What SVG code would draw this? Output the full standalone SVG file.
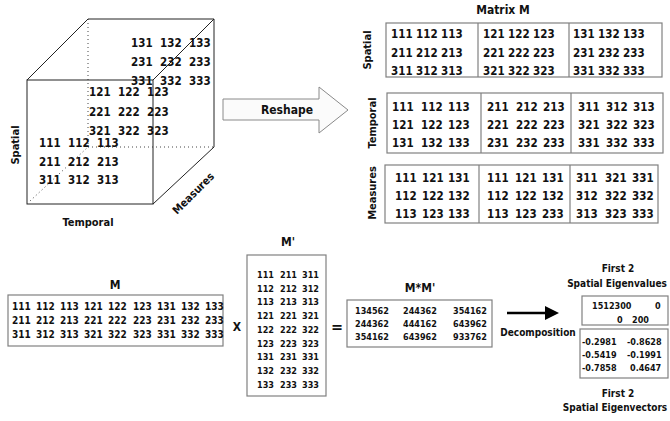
<svg xmlns="http://www.w3.org/2000/svg" width="670" height="421" viewBox="0 0 670 421">
<style>
text{font-family:"DejaVu Sans Condensed","DejaVu Sans",sans-serif;font-stretch:condensed;font-weight:bold;fill:#111}
.n11{font-size:11.5px}
.n10{font-size:10px}
.n9{font-size:9px}
.lbl{font-size:11px}
.t12{font-size:12px}
.mid{text-anchor:middle}
.edge{stroke:#222;stroke-width:1;fill:none}
.dot{stroke:#444;stroke-width:1;fill:none;stroke-dasharray:1 3}
.box{fill:#fff;stroke:#808080;stroke-width:1.2}
.div{stroke:#808080;stroke-width:1.2}
</style>
<rect width="670" height="421" fill="#fff"/>

<g id="cube">
  <line class="dot" x1="88" y1="19" x2="88" y2="147"/>
  <line class="dot" x1="88" y1="147" x2="214" y2="147"/>
  <line class="dot" x1="30" y1="201" x2="88" y2="147"/>
  <rect class="edge" x="27" y="80" width="126" height="124"/>
  <polyline class="edge" points="27,80 88,19 214,19 214,147 153,204"/>
  <line class="edge" x1="153" y1="80" x2="214" y2="19"/>
  <g class="n11">
    <text y="47"><tspan x="131">131</tspan><tspan x="160">132</tspan><tspan x="189">133</tspan></text>
    <text y="66"><tspan x="131">231</tspan><tspan x="160">232</tspan><tspan x="189">233</tspan></text>
    <text y="85"><tspan x="131">331</tspan><tspan x="160">332</tspan><tspan x="189">333</tspan></text>
    <text y="96"><tspan x="89">121</tspan><tspan x="118">122</tspan><tspan x="147">123</tspan></text>
    <text y="116"><tspan x="89">221</tspan><tspan x="118">222</tspan><tspan x="147">223</tspan></text>
    <text y="135"><tspan x="89">321</tspan><tspan x="118">322</tspan><tspan x="147">323</tspan></text>
    <text y="147"><tspan x="39">111</tspan><tspan x="68">112</tspan><tspan x="97">113</tspan></text>
    <text y="166"><tspan x="39">211</tspan><tspan x="68">212</tspan><tspan x="97">213</tspan></text>
    <text y="184"><tspan x="39">311</tspan><tspan x="68">312</tspan><tspan x="97">313</tspan></text>
  </g>
  <text class="lbl mid" transform="translate(19,145) rotate(-90)">Spatial</text>
  <text class="lbl mid" x="88" y="226">Temporal</text>
  <text class="lbl mid" transform="translate(196,196) rotate(-45)">Measures</text>
</g>

<g id="connectors">
  <polygon points="223,99 319,99 319,87 348,110 319,133 319,120 223,120" fill="#fbfbfb" stroke="#8a8a8a" stroke-width="1"/>
  <text class="t12 mid" x="287" y="114">Reshape</text>
  <line x1="507" y1="313" x2="547" y2="313" stroke="#000" stroke-width="2.5"/>
  <polygon points="545,306 559,313 545,320" fill="#000"/>
  <text class="n10 mid" x="538" y="336">Decomposition</text>
</g>

<g id="matrix-m-title">
  <text class="t12 mid" x="503" y="14">Matrix M</text>
</g>

<g id="spatial-unfold">
  <rect class="box" x="386" y="23" width="276" height="54"/>
  <line class="div" x1="478" y1="23" x2="478" y2="77"/>
  <line class="div" x1="569" y1="23" x2="569" y2="77"/>
  <g class="n11">
    <text y="38"><tspan x="391">111</tspan><tspan x="416">112</tspan><tspan x="441">113</tspan><tspan x="483">121</tspan><tspan x="508">122</tspan><tspan x="533">123</tspan><tspan x="573">131</tspan><tspan x="598">132</tspan><tspan x="623">133</tspan></text>
    <text y="57"><tspan x="391">211</tspan><tspan x="416">212</tspan><tspan x="441">213</tspan><tspan x="483">221</tspan><tspan x="508">222</tspan><tspan x="533">223</tspan><tspan x="573">231</tspan><tspan x="598">232</tspan><tspan x="623">233</tspan></text>
    <text y="75"><tspan x="391">311</tspan><tspan x="416">312</tspan><tspan x="441">313</tspan><tspan x="483">321</tspan><tspan x="508">322</tspan><tspan x="533">323</tspan><tspan x="573">331</tspan><tspan x="598">332</tspan><tspan x="623">333</tspan></text>
  </g>
  <text class="lbl mid" transform="translate(371,50) rotate(-90)">Spatial</text>
</g>

<g id="temporal-unfold">
  <rect class="box" x="387" y="93" width="276" height="60"/>
  <line class="div" x1="481" y1="93" x2="481" y2="153"/>
  <line class="div" x1="571" y1="93" x2="571" y2="153"/>
  <g class="n11">
    <text y="111"><tspan x="392">111</tspan><tspan x="421">112</tspan><tspan x="448">113</tspan><tspan x="487">211</tspan><tspan x="516">212</tspan><tspan x="543">213</tspan><tspan x="578">311</tspan><tspan x="606">312</tspan><tspan x="633">313</tspan></text>
    <text y="129"><tspan x="392">121</tspan><tspan x="421">122</tspan><tspan x="448">123</tspan><tspan x="487">221</tspan><tspan x="516">222</tspan><tspan x="543">223</tspan><tspan x="578">321</tspan><tspan x="606">322</tspan><tspan x="633">323</tspan></text>
    <text y="147"><tspan x="392">131</tspan><tspan x="421">132</tspan><tspan x="448">133</tspan><tspan x="487">231</tspan><tspan x="516">232</tspan><tspan x="543">233</tspan><tspan x="578">331</tspan><tspan x="606">332</tspan><tspan x="633">333</tspan></text>
  </g>
  <text class="lbl mid" transform="translate(376,123) rotate(-90)">Temporal</text>
</g>

<g id="measures-unfold">
  <rect class="box" x="385" y="165" width="273" height="58"/>
  <line class="div" x1="479" y1="165" x2="479" y2="223"/>
  <line class="div" x1="570" y1="165" x2="570" y2="223"/>
  <g class="n11">
    <text y="182"><tspan x="395">111</tspan><tspan x="422">121</tspan><tspan x="448">131</tspan><tspan x="487">111</tspan><tspan x="515">121</tspan><tspan x="542">131</tspan><tspan x="576">311</tspan><tspan x="605">321</tspan><tspan x="632">331</tspan></text>
    <text y="200"><tspan x="395">112</tspan><tspan x="422">122</tspan><tspan x="448">132</tspan><tspan x="487">112</tspan><tspan x="515">122</tspan><tspan x="542">132</tspan><tspan x="576">312</tspan><tspan x="605">322</tspan><tspan x="632">332</tspan></text>
    <text y="218"><tspan x="395">113</tspan><tspan x="422">123</tspan><tspan x="448">133</tspan><tspan x="487">113</tspan><tspan x="515">123</tspan><tspan x="542">233</tspan><tspan x="576">313</tspan><tspan x="605">323</tspan><tspan x="632">333</tspan></text>
  </g>
  <text class="lbl mid" transform="translate(376,193) rotate(-90)">Measures</text>
</g>

<g id="matrix-m">
  <text class="t12 mid" x="115" y="289">M</text>
  <rect class="box" x="8" y="295" width="215" height="51"/>
  <g class="n10">
    <text y="310"><tspan x="12">111</tspan><tspan x="36">112</tspan><tspan x="60">113</tspan><tspan x="84">121</tspan><tspan x="108">122</tspan><tspan x="133">123</tspan><tspan x="157">131</tspan><tspan x="181">132</tspan><tspan x="205">133</tspan></text>
    <text y="324"><tspan x="12">211</tspan><tspan x="36">212</tspan><tspan x="60">213</tspan><tspan x="84">221</tspan><tspan x="108">222</tspan><tspan x="133">223</tspan><tspan x="157">231</tspan><tspan x="181">232</tspan><tspan x="205">233</tspan></text>
    <text y="338"><tspan x="12">311</tspan><tspan x="36">312</tspan><tspan x="60">313</tspan><tspan x="84">321</tspan><tspan x="108">322</tspan><tspan x="133">323</tspan><tspan x="157">331</tspan><tspan x="181">332</tspan><tspan x="205">333</tspan></text>
  </g>
</g>

<g id="times">
  <text class="t12 mid" x="237" y="331">X</text>
</g>

<g id="matrix-mt">
  <text class="t12 mid" x="288" y="246">M'</text>
  <rect class="box" x="247" y="255" width="79" height="141"/>
  <g class="n9">
    <text y="278"><tspan x="257">111</tspan><tspan x="280">211</tspan><tspan x="302">311</tspan></text>
    <text y="291.5"><tspan x="257">112</tspan><tspan x="280">212</tspan><tspan x="302">312</tspan></text>
    <text y="305.3"><tspan x="257">113</tspan><tspan x="280">213</tspan><tspan x="302">313</tspan></text>
    <text y="319"><tspan x="257">121</tspan><tspan x="280">221</tspan><tspan x="302">321</tspan></text>
    <text y="332.8"><tspan x="257">122</tspan><tspan x="280">222</tspan><tspan x="302">322</tspan></text>
    <text y="346.5"><tspan x="257">123</tspan><tspan x="280">223</tspan><tspan x="302">323</tspan></text>
    <text y="360.3"><tspan x="257">131</tspan><tspan x="280">231</tspan><tspan x="302">331</tspan></text>
    <text y="374"><tspan x="257">132</tspan><tspan x="280">232</tspan><tspan x="302">332</tspan></text>
    <text y="387.8"><tspan x="257">133</tspan><tspan x="280">233</tspan><tspan x="302">333</tspan></text>
  </g>
</g>

<g id="equals">
  <text class="mid" style="font-size:16px" x="337" y="332">=</text>
</g>

<g id="matrix-mmt">
  <text class="t12 mid" x="420" y="292">M*M'</text>
  <rect class="box" x="347" y="300" width="145" height="47"/>
  <g class="n9">
    <text y="314"><tspan x="355">134562</tspan><tspan x="403">244362</tspan><tspan x="453">354162</tspan></text>
    <text y="327"><tspan x="355">244362</tspan><tspan x="403">444162</tspan><tspan x="453">643962</tspan></text>
    <text y="340"><tspan x="355">354162</tspan><tspan x="403">643962</tspan><tspan x="453">933762</tspan></text>
  </g>
</g>

<g id="eigenvalues">
  <text class="n10 mid" x="618" y="272">First 2</text>
  <text class="n10 mid" x="617" y="287">Spatial Eigenvalues</text>
  <rect class="box" x="582" y="296" width="86" height="29"/>
  <g class="n9">
    <text y="308.5"><tspan x="592">1512300</tspan><tspan x="655">0</tspan></text>
    <text y="322.5"><tspan x="617">0</tspan><tspan x="632">200</tspan></text>
  </g>
</g>

<g id="eigenvectors">
  <rect class="box" x="580" y="329" width="88" height="49"/>
  <g class="n9">
    <text y="345"><tspan x="582">-0.2981</tspan><tspan x="627">-0.8628</tspan></text>
    <text y="358"><tspan x="582">-0.5419</tspan><tspan x="627">-0.1991</tspan></text>
    <text y="371"><tspan x="582">-0.7858</tspan><tspan x="630">0.4647</tspan></text>
  </g>
  <text class="n10 mid" x="618" y="397">First 2</text>
  <text class="n10 mid" x="615" y="411">Spatial Eigenvectors</text>
</g>
</svg>
